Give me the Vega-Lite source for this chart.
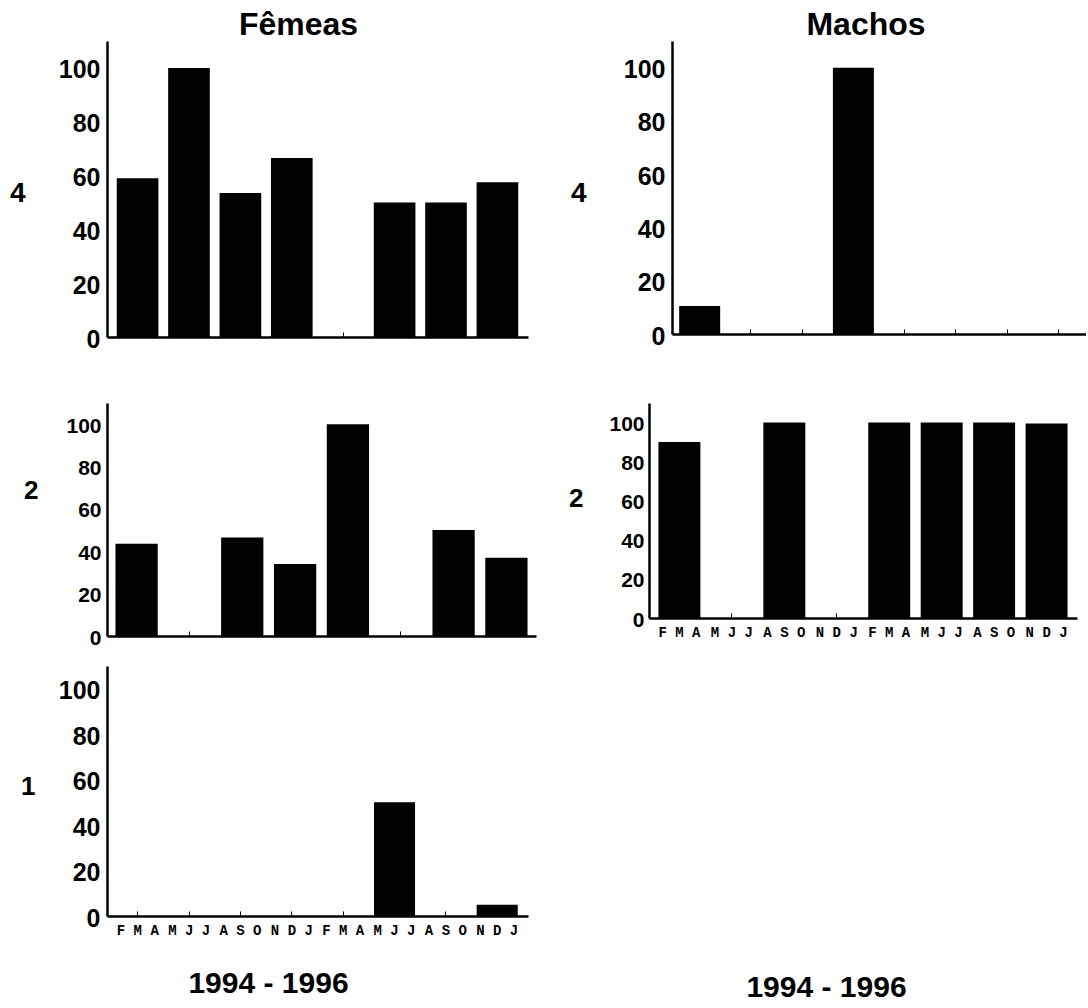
{
  "$schema": "https://vega.github.io/schema/vega-lite/v6.json",
  "background": "white",
  "padding": {"left": 9, "top": 9, "right": 0, "bottom": 0},
  "config": {"view": {"stroke": null}, "font": "Liberation Sans"},
  "datasets": {
    "d": [
      {"sexo": "Fêmeas", "estadio": 4, "periodo": "FMA 1994", "valor": 59},
      {"sexo": "Fêmeas", "estadio": 4, "periodo": "MJJ 1994", "valor": 100},
      {"sexo": "Fêmeas", "estadio": 4, "periodo": "ASO 1994", "valor": 53.5},
      {"sexo": "Fêmeas", "estadio": 4, "periodo": "NDJ 1994", "valor": 66.5},
      {"sexo": "Fêmeas", "estadio": 4, "periodo": "FMA 1995", "valor": 0},
      {"sexo": "Fêmeas", "estadio": 4, "periodo": "MJJ 1995", "valor": 50},
      {"sexo": "Fêmeas", "estadio": 4, "periodo": "ASO 1995", "valor": 50},
      {"sexo": "Fêmeas", "estadio": 4, "periodo": "NDJ 1995", "valor": 57.5},
      {"sexo": "Fêmeas", "estadio": 2, "periodo": "FMA 1994", "valor": 43.5},
      {"sexo": "Fêmeas", "estadio": 2, "periodo": "MJJ 1994", "valor": 0},
      {"sexo": "Fêmeas", "estadio": 2, "periodo": "ASO 1994", "valor": 46.5},
      {"sexo": "Fêmeas", "estadio": 2, "periodo": "NDJ 1994", "valor": 34},
      {"sexo": "Fêmeas", "estadio": 2, "periodo": "FMA 1995", "valor": 100},
      {"sexo": "Fêmeas", "estadio": 2, "periodo": "MJJ 1995", "valor": 0},
      {"sexo": "Fêmeas", "estadio": 2, "periodo": "ASO 1995", "valor": 50},
      {"sexo": "Fêmeas", "estadio": 2, "periodo": "NDJ 1995", "valor": 37},
      {"sexo": "Fêmeas", "estadio": 1, "periodo": "FMA 1994", "valor": 0},
      {"sexo": "Fêmeas", "estadio": 1, "periodo": "MJJ 1994", "valor": 0},
      {"sexo": "Fêmeas", "estadio": 1, "periodo": "ASO 1994", "valor": 0},
      {"sexo": "Fêmeas", "estadio": 1, "periodo": "NDJ 1994", "valor": 0},
      {"sexo": "Fêmeas", "estadio": 1, "periodo": "FMA 1995", "valor": 0},
      {"sexo": "Fêmeas", "estadio": 1, "periodo": "MJJ 1995", "valor": 50},
      {"sexo": "Fêmeas", "estadio": 1, "periodo": "ASO 1995", "valor": 0},
      {"sexo": "Fêmeas", "estadio": 1, "periodo": "NDJ 1995", "valor": 5},
      {"sexo": "Machos", "estadio": 4, "periodo": "FMA 1994", "valor": 10.5},
      {"sexo": "Machos", "estadio": 4, "periodo": "MJJ 1994", "valor": 0},
      {"sexo": "Machos", "estadio": 4, "periodo": "ASO 1994", "valor": 0},
      {"sexo": "Machos", "estadio": 4, "periodo": "NDJ 1994", "valor": 100},
      {"sexo": "Machos", "estadio": 4, "periodo": "FMA 1995", "valor": 0},
      {"sexo": "Machos", "estadio": 4, "periodo": "MJJ 1995", "valor": 0},
      {"sexo": "Machos", "estadio": 4, "periodo": "ASO 1995", "valor": 0},
      {"sexo": "Machos", "estadio": 4, "periodo": "NDJ 1995", "valor": 0},
      {"sexo": "Machos", "estadio": 2, "periodo": "FMA 1994", "valor": 90},
      {"sexo": "Machos", "estadio": 2, "periodo": "MJJ 1994", "valor": 0},
      {"sexo": "Machos", "estadio": 2, "periodo": "ASO 1994", "valor": 100},
      {"sexo": "Machos", "estadio": 2, "periodo": "NDJ 1994", "valor": 0},
      {"sexo": "Machos", "estadio": 2, "periodo": "FMA 1995", "valor": 100},
      {"sexo": "Machos", "estadio": 2, "periodo": "MJJ 1995", "valor": 100},
      {"sexo": "Machos", "estadio": 2, "periodo": "ASO 1995", "valor": 100},
      {"sexo": "Machos", "estadio": 2, "periodo": "NDJ 1995", "valor": 99.5}
    ]
  },
  "data": {"name": "d"},
  "spacing": 51,
  "vconcat": [
    {
      "hconcat": [
        {
          "width": 421, "height": 296,
          "title": {"text": "Fêmeas", "anchor": "middle", "dx": -19, "baseline": "alphabetic", "offset": -26, "fontSize": 32, "font": "Liberation Sans", "fontWeight": "bold", "color": "black"},
          "transform": [{"filter": "datum.sexo === 'Fêmeas' && datum.estadio === 4"}],
          "mark": {"type": "bar", "color": "black"},
          "encoding": {
            "x": {"field": "periodo", "type": "nominal", "sort": null,
              "scale": {"paddingInner": 0.19, "paddingOuter": 0.19},
              "axis": {"title": null, "labels": false, "ticks": true, "tickSize": -5, "tickColor": "black", "domainColor": "black", "domainWidth": 2.5, "grid": false}},
            "y": {"field": "valor", "type": "quantitative", "scale": {"domain": [0, 110], "nice": false},
              "axis": {"values": [0, 20, 40, 60, 80, 100], "grid": false, "ticks": false, "domainColor": "black", "domainWidth": 2.5,
                "labelPadding": 7, "labelOffset": 2, "labelFont": "Liberation Sans", "labelFontWeight": "bold", "labelFontSize": 25, "labelColor": "black",
                "title": "4", "titleAngle": 0, "titleAlign": "right", "titleBaseline": "middle", "titleX": -82, "titleY": 152,
                "titleFont": "Liberation Sans", "titleFontSize": 28, "titleFontWeight": "bold", "titleColor": "black"}}
          }
        },
        {
          "width": 414, "height": 293,
          "title": {"text": "Machos", "anchor": "middle", "dx": -13, "baseline": "alphabetic", "offset": -26, "fontSize": 32, "font": "Liberation Sans", "fontWeight": "bold", "color": "black"},
          "transform": [{"filter": "datum.sexo === 'Machos' && datum.estadio === 4"}],
          "mark": {"type": "bar", "color": "black"},
          "encoding": {
            "x": {"field": "periodo", "type": "nominal", "sort": null,
              "scale": {"paddingInner": 0.2, "paddingOuter": 0.14},
              "axis": {"title": null, "labels": false, "ticks": true, "tickSize": -5, "tickColor": "black", "domainColor": "black", "domainWidth": 2.5, "grid": false}},
            "y": {"field": "valor", "type": "quantitative", "scale": {"domain": [0, 110], "nice": false},
              "axis": {"values": [0, 20, 40, 60, 80, 100], "grid": false, "ticks": false, "domainColor": "black", "domainWidth": 2.5,
                "labelPadding": 7, "labelOffset": 2, "labelFont": "Liberation Sans", "labelFontWeight": "bold", "labelFontSize": 25, "labelColor": "black",
                "title": "4", "titleAngle": 0, "titleAlign": "right", "titleBaseline": "middle", "titleX": -86, "titleY": 152,
                "titleFont": "Liberation Sans", "titleFontSize": 28, "titleFontWeight": "bold", "titleColor": "black"}}
          }
        }
      ],
      "spacing": 144,
      "bounds": "flush"
    },
    {
      "hconcat": [
        {
          "vconcat": [
            {
              "width": 429, "height": 233,
              "transform": [{"filter": "datum.sexo === 'Fêmeas' && datum.estadio === 2"}],
              "mark": {"type": "bar", "color": "black"},
              "encoding": {
                "x": {"field": "periodo", "type": "nominal", "sort": null,
                  "scale": {"paddingInner": 0.2, "paddingOuter": 0.16},
                  "axis": {"title": null, "labels": false, "ticks": true, "tickSize": -5, "tickColor": "black", "domainColor": "black", "domainWidth": 2.5, "grid": false}},
                "y": {"field": "valor", "type": "quantitative", "scale": {"domain": [0, 110], "nice": false},
                  "axis": {"values": [0, 20, 40, 60, 80, 100], "grid": false, "ticks": false, "domainColor": "black", "domainWidth": 2.5,
                    "labelPadding": 6, "labelOffset": 2, "labelFont": "Liberation Sans", "labelFontWeight": "bold", "labelFontSize": 21, "labelColor": "black",
                    "title": "2", "titleAngle": 0, "titleAlign": "right", "titleBaseline": "middle", "titleX": -69, "titleY": 87,
                    "titleFont": "Liberation Sans", "titleFontSize": 26, "titleFontWeight": "bold", "titleColor": "black"}}
              }
            },
            {
              "width": 421, "height": 250,
              "transform": [{"filter": "datum.sexo === 'Fêmeas' && datum.estadio === 1"}],
              "mark": {"type": "bar", "color": "black"},
              "encoding": {
                "x": {"field": "periodo", "type": "nominal", "sort": null,
                  "scale": {"paddingInner": 0.2, "paddingOuter": 0.2},
                  "axis": {"labels": true, "labelExpr": "join(split(substring(datum.label, 0, 3), ''), ' ')", "labelAngle": 0, "labelBaseline": "top",
                    "labelFont": "Liberation Mono", "labelFontWeight": "bold", "labelFontSize": 14, "labelColor": "black", "labelPadding": 12,
                    "ticks": true, "tickSize": -5, "tickColor": "black", "domainColor": "black", "domainWidth": 2.5, "grid": false,
                    "title": "1994 - 1996", "titleX": 161, "titleY": 76, "titleAlign": "center", "titleBaseline": "alphabetic",
                    "titleFont": "Liberation Sans", "titleFontSize": 30, "titleFontWeight": "bold", "titleColor": "black"}},
                "y": {"field": "valor", "type": "quantitative", "scale": {"domain": [0, 110], "nice": false},
                  "axis": {"values": [0, 20, 40, 60, 80, 100], "grid": false, "ticks": false, "domainColor": "black", "domainWidth": 2.5,
                    "labelPadding": 7, "labelOffset": 2, "labelFont": "Liberation Sans", "labelFontWeight": "bold", "labelFontSize": 25, "labelColor": "black",
                    "title": "1", "titleAngle": 0, "titleAlign": "right", "titleBaseline": "middle", "titleX": -72, "titleY": 120,
                    "titleFont": "Liberation Sans", "titleFontSize": 26, "titleFontWeight": "bold", "titleColor": "black"}}
              }
            }
          ],
          "spacing": 18
        },
        {
          "width": 428, "height": 215,
          "transform": [{"filter": "datum.sexo === 'Machos' && datum.estadio === 2"}],
          "mark": {"type": "bar", "color": "black"},
          "encoding": {
            "x": {"field": "periodo", "type": "nominal", "sort": null,
              "scale": {"paddingInner": 0.2, "paddingOuter": 0.18},
              "axis": {"labels": true, "labelExpr": "join(split(substring(datum.label, 0, 3), ''), ' ')", "labelAngle": 0, "labelBaseline": "top",
                "labelFont": "Liberation Mono", "labelFontWeight": "bold", "labelFontSize": 14, "labelColor": "black", "labelPadding": 12,
                "ticks": true, "tickSize": -5, "tickColor": "black", "domainColor": "black", "domainWidth": 2.5, "grid": false,
                "title": "1994 - 1996", "titleX": 177, "titleY": 378, "titleAlign": "center", "titleBaseline": "alphabetic",
                "titleFont": "Liberation Sans", "titleFontSize": 30, "titleFontWeight": "bold", "titleColor": "black"}},
            "y": {"field": "valor", "type": "quantitative", "scale": {"domain": [0, 110], "nice": false},
              "axis": {"values": [0, 20, 40, 60, 80, 100], "grid": false, "ticks": false, "domainColor": "black", "domainWidth": 2.5,
                "labelPadding": 5, "labelOffset": 2, "labelFont": "Liberation Sans", "labelFontWeight": "bold", "labelFontSize": 21, "labelColor": "black",
                "title": "2", "titleAngle": 0, "titleAlign": "right", "titleBaseline": "middle", "titleX": -66, "titleY": 95,
                "titleFont": "Liberation Sans", "titleFontSize": 26, "titleFontWeight": "bold", "titleColor": "black"}}
          }
        }
      ],
      "spacing": 32
    }
  ]
}
